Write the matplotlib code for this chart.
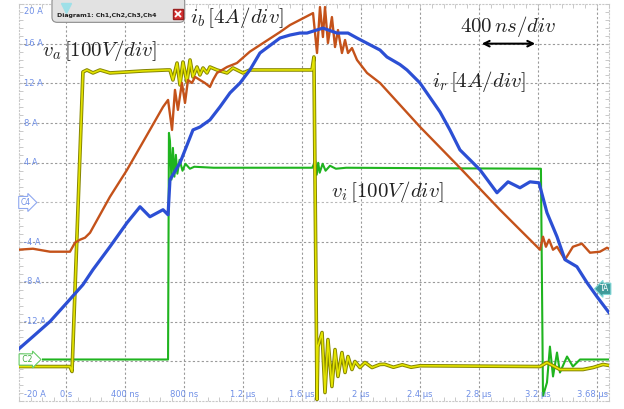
#!/usr/bin/env python3
"""Scope capture of the bridge voltages and currents, 400 ns/div."""

import matplotlib
matplotlib.use("Agg")
import matplotlib.pyplot as plt
from matplotlib.patches import FancyBboxPatch

# time in microseconds, amplitudes in screen units (4 A/div and 100 V/div)
VA_T = [-0.325, 0.027, 0.041, 0.115, 0.142, 0.183, 0.231, 0.298, 0.414, 0.522,
        0.685, 0.705, 0.725, 0.753, 0.773, 0.793, 0.820, 0.841, 0.861, 0.888,
        0.908, 0.929, 0.956, 0.976, 1.024, 1.092, 1.132, 1.200, 1.247, 1.519,
        1.668, 1.681, 1.702, 1.708, 1.736, 1.756, 1.776, 1.803, 1.824, 1.844,
        1.871, 1.892, 1.912, 1.939, 1.959, 1.993, 2.027, 2.075, 2.129, 2.16,
        2.22, 2.28, 2.34, 2.40, 3.214, 3.261, 3.349, 3.505, 3.573, 3.641, 3.681]
VA_Y = [-16.53, -16.53, -17.03, 13.15, 13.35, 13.05, 13.35, 13.05, 13.15, 13.25,
        13.35, 13.35, 12.34, 14.05, 11.84, 14.15, 12.14, 14.36, 12.65, 13.65,
        12.85, 13.55, 13.05, 13.65, 13.35, 13.05, 13.55, 13.05, 13.35, 13.35,
        13.35, 14.66, -19.85, -14.52, -13.10, -19.15, -13.81, -18.54, -14.82, -17.53,
        -15.12, -17.13, -15.52, -16.83, -16.02, -16.63, -16.12, -16.63, -16.32, -16.30,
        -16.60, -16.35, -16.60, -16.45, -16.53, -16.12, -16.83, -16.83, -16.63, -16.32, -16.42]

VI_T = [-0.156, 0.692, 0.698, 0.705, 0.715, 0.725, 0.735, 0.745, 0.755, 0.770,
        0.790, 0.810, 0.840, 0.870, 1.000, 1.300, 1.670, 1.690, 1.700, 1.710,
        1.720, 1.740, 1.760, 1.790, 1.830, 1.900, 2.500, 3.220, 3.234, 3.261,
        3.281, 3.302, 3.329, 3.349, 3.397, 3.437, 3.485, 3.681]
VI_Y = [-15.82, -15.82, 7.01, 6.2, 2.3, 5.5, 2.6, 4.8, 2.9, 4.3,
        3.2, 3.9, 3.4, 3.6, 3.5, 3.5, 3.5, 4.2, 2.8, 4.0,
        3.0, 3.9, 3.2, 3.7, 3.4, 3.5, 3.45, 3.4, -19.5, -18.14,
        -14.52, -17.53, -15.12, -17.13, -15.52, -16.53, -15.82, -15.82]

IB_T = [-0.325, -0.224, -0.108, 0.027, 0.061, 0.095, 0.129, 0.163, 0.298, 0.414,
        0.569, 0.658, 0.692, 0.719, 0.739, 0.759, 0.786, 0.807, 0.827, 0.854,
        0.875, 0.908, 0.942, 0.976, 0.997, 1.024, 1.092, 1.159, 1.247, 1.451,
        1.519, 1.675, 1.702, 1.722, 1.742, 1.756, 1.776, 1.803, 1.824, 1.844,
        1.871, 1.892, 1.912, 1.939, 1.973, 2.041, 2.129, 2.400, 2.671, 2.942,
        3.078, 3.214, 3.234, 3.254, 3.275, 3.302, 3.329, 3.383, 3.437, 3.498,
        3.553, 3.620, 3.668, 3.681]
IB_Y = [-4.76, -4.66, -4.96, -4.96, -4.05, -3.75, -3.55, -3.05, 0.57, 3.29,
        7.31, 9.63, 10.33, 7.31, 11.34, 9.33, 12.04, 10.03, 12.34, 12.04,
        12.65, 12.34, 12.04, 11.64, 12.34, 13.05, 13.65, 14.05, 15.2, 17.17,
        17.88, 19.08, 15.06, 19.69, 16.67, 19.69, 16.07, 18.68, 15.66, 17.37,
        15.06, 16.37, 15.06, 15.56, 14.36, 13.05, 12.04, 7.62, 3.49, -0.73,
        -2.75, -4.76, -3.45, -4.46, -3.75, -4.76, -4.46, -5.76, -4.46, -4.15,
        -5.06, -4.96, -4.56, -4.66]

IR_T = [-0.325, -0.224, -0.108, 0.007, 0.115, 0.183, 0.298, 0.414, 0.502, 0.569,
        0.658, 0.692, 0.705, 0.773, 0.861, 0.908, 0.976, 1.044, 1.112, 1.180,
        1.247, 1.315, 1.451, 1.519, 1.586, 1.634, 1.742, 1.837, 1.912, 1.973,
        2.129, 2.176, 2.264, 2.312, 2.400, 2.536, 2.603, 2.671, 2.807, 2.922,
        2.997, 3.078, 3.146, 3.207, 3.261, 3.329, 3.383, 3.464, 3.532, 3.600, 3.681]
IR_Y = [-14.82, -13.51, -11.99, -10.09, -8.28, -6.77, -4.46, -2.04, -0.43, -1.44,
        -0.73, -1.24, 2.29, 3.99, 7.31, 7.6, 8.32, 9.63, 11.04, 12.04,
        13.35, 15.06, 16.57, 16.87, 17.07, 17.07, 17.57, 17.07, 17.07, 16.57,
        15.36, 14.66, 13.9, 13.35, 12.04, 9.12, 7.31, 5.30, 3.29, 0.98,
        2.08, 1.48, 2.08, 1.98, -1.03, -3.45, -5.76, -6.47, -8.07, -9.49, -11.09]

Y_TICKS = [20, 16, 12, 8, 4, -4, -8, -12, -20]
Y_LABELS = ["20 A", "16 A", "12 A", "8 A", "4 A", "-4 A", "-8 A", "-12 A", "-20 A"]
X_TICKS = [0, 0.4, 0.8, 1.2, 1.6, 2.0, 2.4, 2.8, 3.2, 3.68]
X_LABELS = ["0 s", "400 ns", "800 ns", "1.2 \u00b5s", "1.6 \u00b5s", "2 \u00b5s",
            "2.4 \u00b5s", "2.8 \u00b5s", "3.2 \u00b5s", "3.68 \u00b5s"]

T0, T1 = -0.32, 3.68
GRID = "#9a9a9a"
TICK_BLUE = "#6f8fe6"


def main() -> None:
    plt.rcParams["mathtext.fontset"] = "cm"
    fig = plt.figure(figsize=(6.24, 4.09), dpi=100)
    ax = fig.add_axes([0.0301, 0.0196, 0.9455, 0.9707])
    ax.set_xlim(T0, T1)
    ax.set_ylim(-20, 20)

    # graticule
    for t in [0.4 * k for k in range(10)]:
        ax.axvline(t, color=GRID, lw=0.8, ls=(0, (2, 2)), zorder=0)
    for v in range(-16, 20, 4):
        ax.axhline(v, color="#b8b8b8" if v == 0 else GRID, lw=0.8,
                   ls=(0, (2, 2)), zorder=0)
    for side in ax.spines.values():
        side.set_color("#c8c8c8")
        side.set_linestyle((0, (1, 2)))
        side.set_linewidth(0.8)
    ax.set_xticks([])
    ax.set_yticks([])
    ax.set_xticks([T0 + 0.08 * k for k in range(51)], minor=True)
    ax.set_yticks([-20 + 0.8 * k for k in range(51)], minor=True)
    ax.tick_params(which="minor", direction="in", length=3, color="#c0c0c0",
                   top=True, right=True, labelbottom=False, labelleft=False)

    # traces
    ax.plot(VI_T, VI_Y, color="#1fb41f", lw=1.5, zorder=2)
    ax.plot(VA_T, VA_Y, color="#858500", lw=2.6, zorder=3)
    ax.plot(VA_T, VA_Y, color="#e4e400", lw=1.2, zorder=3)
    ax.plot(IB_T, IB_Y, color="#c4521a", lw=1.7, zorder=4)
    ax.plot(IR_T, IR_Y, color="#2c4fd4", lw=2.3, zorder=5)

    # scale labels inside the screen
    for v, lab in zip(Y_TICKS, Y_LABELS):
        va = "top" if v == 20 else ("bottom" if v == -20 else "center")
        pos = v - 0.3 if v == 20 else (v + 0.15 if v == -20 else v)
        ax.text(-0.285, pos, lab, color=TICK_BLUE, fontsize=6, ha="left",
                va=va, zorder=6)
    for t, lab in zip(X_TICKS, X_LABELS):
        ax.text(t - 0.005 if t == X_TICKS[-1] else t, -19.35, lab,
                color=TICK_BLUE, fontsize=6,
                ha="right" if t == X_TICKS[-1] else "center", va="center", zorder=6)

    # channel markers
    ax.text(-0.31, 0, "C4", color=TICK_BLUE, fontsize=5.5, ha="left", va="center",
            bbox=dict(boxstyle="rarrow,pad=0.2", fc="white", ec="#8fa8f0", lw=0.8),
            zorder=7)
    ax.text(-0.31, -15.82, " C2 ", color="#3aa83a", fontsize=5.5, ha="left",
            va="center",
            bbox=dict(boxstyle="rarrow,pad=0.15", fc="white", ec="#66cc66", lw=0.8),
            zorder=7)
    ax.text(3.655, -8.7, "TA", color="white", fontsize=5.5, ha="center", va="center",
            bbox=dict(boxstyle="larrow,pad=0.15", fc="#3f9a9a", ec="#7fd6d6", lw=0.8),
            zorder=7, clip_on=False)

    # window tab and trigger marker
    tab = FancyBboxPatch((-0.095, 18.15), 0.9, 2.6,
                         boxstyle="round,pad=0,rounding_size=0.035",
                         mutation_aspect=14.8, fc="#e2e2e2", ec="#8c8c8c", lw=0.8,
                         zorder=8, clip_on=False)
    ax.add_patch(tab)
    ax.plot([0.0], [19.6], marker="v", ms=7, color="#9ee0e8", zorder=9,
            clip_on=False)
    ax.text(-0.06, 18.8, "Diagram1: Ch1,Ch2,Ch3,Ch4", fontsize=4.5,
            fontweight="bold", color="#202020", ha="left", va="center", zorder=10)
    ax.plot([0.757], [18.95], marker="s", ms=7.5, color="#d83232", mec="#9a2020",
            zorder=9, clip_on=False)
    ax.plot([0.757], [18.95], marker="x", ms=4, mew=1.3, color="white", zorder=10,
            clip_on=False)

    # annotations
    ax.text(-0.165, 15.3, r"$v_a\,[100V/div]$", fontsize=15, color="#222222",
            ha="left", va="center", zorder=8)
    ax.text(0.84, 18.6, r"$i_b\,[4A/div]$", fontsize=15, color="#222222",
            ha="left", va="center", zorder=8)
    ax.text(2.48, 12.2, r"$i_r\,[4A/div]$", fontsize=15, color="#222222",
            ha="left", va="center", zorder=8)
    ax.text(1.80, 1.1, r"$v_i\,[100V/div]$", fontsize=15, color="#222222",
            ha="left", va="center", zorder=8)
    ax.text(3.0, 17.7, r"$400\,ns/div$", fontsize=15, color="#222222",
            ha="center", va="center", zorder=8)
    ax.annotate("", xy=(2.8, 16), xytext=(3.2, 16),
                arrowprops=dict(arrowstyle="<->", lw=1.5, color="black"), zorder=8)

    fig.savefig("out.png", dpi=100)


if __name__ == "__main__":
    main()
